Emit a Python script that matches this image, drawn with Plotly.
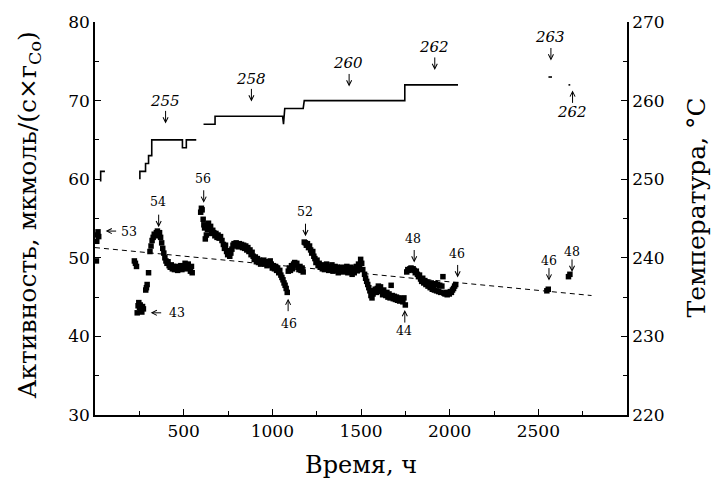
import plotly.graph_objects as go

# Catalyst activity, µmol/(s·g_Co), versus time on stream, h
time_h = [
    8, 10, 13, 17, 21,
    222, 228, 234,
    238, 243, 247, 251, 255, 259, 264, 268, 273,
    286, 290, 294, 302,
    310, 316, 322, 328, 334, 340, 346, 352, 358, 364, 370, 376, 382, 388, 394,
    400, 406, 412, 418, 424, 430, 436, 442, 448, 454, 460, 466, 472, 478, 484,
    490, 496, 502, 508, 514, 520, 526, 532, 538, 544, 548,
    596, 600, 604, 610, 614, 618, 622, 628, 634, 640, 646, 652, 658, 664, 670,
    676, 682, 688, 694, 700, 708, 716, 724, 730, 736, 742, 748, 754, 760, 766,
    772, 778, 784, 790, 796, 802, 808, 814, 820, 826, 832, 838, 844, 850, 856,
    862, 868, 874, 880, 886, 892, 898, 904, 910, 916, 922, 928, 934, 940, 946,
    952, 958, 964, 970, 976, 982, 988, 994, 1000, 1006, 1012, 1018, 1024, 1030,
    1036, 1042, 1048, 1054, 1060, 1066, 1072, 1078, 1084,
    1090, 1096, 1102, 1108, 1114, 1120, 1126, 1132, 1138, 1144, 1150, 1156,
    1162, 1168, 1174,
    1180, 1186, 1192, 1198, 1204, 1210, 1216, 1222, 1228, 1234, 1240, 1246,
    1252, 1258, 1264, 1270, 1276, 1282, 1288, 1294, 1300, 1306, 1312, 1318,
    1324, 1330, 1336, 1342, 1348, 1354, 1360, 1366, 1372, 1378, 1384, 1390,
    1396, 1402, 1408, 1414, 1420, 1426, 1432, 1438, 1444, 1450, 1456, 1462,
    1468, 1474, 1480, 1486, 1492, 1498, 1504, 1510,
    1520, 1526, 1532, 1538, 1544, 1550, 1556, 1562, 1568, 1574, 1580, 1586,
    1592, 1598, 1604, 1610, 1616, 1622, 1628, 1634, 1640, 1646, 1652, 1658,
    1664, 1670, 1676, 1682, 1688, 1694, 1700, 1706, 1712, 1718, 1724, 1730,
    1736, 1742, 1750,
    1758, 1764, 1770, 1776, 1782, 1788, 1794, 1800, 1806, 1812, 1818, 1824,
    1830, 1836, 1842, 1848, 1854, 1860, 1866, 1872, 1878, 1884, 1890, 1896,
    1902, 1908, 1914, 1920, 1926, 1932, 1938, 1944, 1950, 1956, 1962, 1968,
    1974, 1980, 1986, 1992, 1998, 2004, 2010, 2016, 2022, 2028, 2034,
    2548, 2556, 2670, 2678,
]
activity = [
    49.6, 52.1, 52.9, 53.3, 52.7,
    49.6, 49.3, 48.9,
    43.0, 43.9, 44.3, 43.7, 44.0, 43.4, 43.1, 43.8, 43.5,
    45.9, 46.2, 46.6, 48.1,
    50.8, 51.5, 52.2, 52.6, 53.0, 52.8, 53.2, 53.4, 53.1, 53.2, 52.6, 51.9, 51.2, 50.6, 50.0,
    49.6, 49.3, 49.5, 49.0, 48.8, 49.1, 48.6, 48.9, 48.5, 48.7, 48.9, 48.4, 48.8, 48.6, 49.0,
    48.5, 48.9, 48.7, 49.3, 48.6, 48.9, 49.2, 48.7, 48.3, 48.9, 48.1,
    55.8, 56.3, 56.1, 54.9, 54.2, 53.8, 52.4, 52.9, 53.6, 54.4, 53.9, 54.0, 53.1, 53.5, 53.2,
    52.8, 53.1, 52.6, 52.9, 52.5, 52.7, 52.2, 51.7, 51.2, 51.6, 50.8, 50.4, 50.9, 50.2, 50.6,
    51.1, 51.6, 51.8, 51.5, 51.9, 51.7, 51.4, 51.8, 51.6, 51.7, 51.3, 51.6, 51.2, 51.5, 51.0,
    51.3, 50.8, 51.0, 50.4, 50.7, 50.2, 49.8, 50.1, 49.5, 49.9, 49.4, 49.7, 49.2, 49.6, 49.3,
    49.7, 49.2, 49.5, 49.0, 49.4, 49.1, 49.6, 49.2, 48.7, 49.0, 48.6, 48.9, 48.4, 48.7,
    48.1, 48.4, 47.8, 47.5, 47.2, 46.8, 46.5, 46.1, 45.6,
    48.3, 48.7, 48.4, 49.0, 48.6, 49.2, 49.4, 49.1, 49.3, 48.8, 48.5, 48.9,
    48.4, 48.7, 48.2,
    52.0, 51.9, 51.6, 51.8, 51.3, 51.5, 51.0, 50.6, 50.8, 50.2, 49.9, 49.4,
    49.7, 49.0, 49.3, 48.8, 49.1, 48.6, 49.0, 48.5, 48.9, 49.2, 48.7, 48.4,
    48.9, 48.6, 49.1, 48.3, 48.7, 48.9, 48.4, 48.8, 48.1, 48.6, 48.3, 48.8,
    48.5, 48.2, 48.7, 48.4, 48.9, 48.1, 48.6, 48.3, 48.8, 47.9, 48.4, 48.1,
    48.6, 48.9, 48.4, 49.2, 48.7, 49.8, 49.3, 48.5,
    47.9, 47.4, 47.0, 46.6, 46.2, 45.8, 45.2, 44.9, 45.4, 45.8, 46.0, 45.6,
    46.1, 46.4, 45.9, 46.3, 45.7, 45.3, 45.9, 45.5, 45.2, 45.6, 45.0, 45.4,
    44.9, 46.5, 45.2, 44.8, 45.1, 44.7, 45.0, 44.6, 44.9, 44.5, 44.8, 44.6,
    44.4, 44.9, 44.0,
    48.2, 48.5, 48.4, 48.6, 48.7, 48.5, 48.6, 48.4, 48.1, 48.3, 47.9, 47.6,
    47.8, 47.3, 47.0, 47.4, 46.8, 47.1, 46.6, 46.9, 46.4, 46.7, 46.2, 46.8,
    46.0, 46.4, 45.9, 46.7, 45.8, 46.6, 45.7, 46.5, 45.6, 46.4, 47.6, 45.5,
    45.4, 45.6, 45.3, 45.5, 45.4, 45.7, 45.6, 45.9, 46.1, 46.4, 46.6,
    45.8, 46.0, 47.6, 47.9,
]

# Linear trend of the activity
trend_time = [0, 2800]
trend_activity = [51.3, 45.2]

# Reactor temperature programme, °C (None separates the recorded intervals)
temp_time = [
    32, 32, 56, None,
    253, 253, 285, 285, 302, 302, 320, 320, 493, 493, 515, 515, 571, None,
    612, 677, 677, 1058, 1063, 1070, 1174, 1180, 1747, 1747, 2047, None,
    2557, 2577, None,
    2670, 2680,
]
temperature = [
    249.7, 251, 251, None,
    250, 251, 251, 252, 252, 253, 253, 255, 255, 254, 254, 255, 255, None,
    257, 257, 258, 258, 257, 259, 259, 260, 260, 262, 262, None,
    263, 263, None,
    262, 262,
]

# Temperature labels: (text, time, activity-axis height)
temp_labels = [
    ("255", 393, 70.0),
    ("258", 878, 72.7),
    ("260", 1425, 74.8),
    ("262", 1911, 76.8),
    ("263", 2565, 78.1),
    ("262", 2688, 68.6),
]
# Pointer arrows next to the temperature labels: (tip time, tip height, direction)
temp_arrows = [
    (398, 67.1, "down"),
    (882, 69.9, "down"),
    (1433, 71.8, "down"),
    (1916, 73.9, "down"),
    (2571, 75.1, "down"),
    (2693, 71.3, "up"),
]

# Activity value labels: (text, time, height)
activity_labels = [
    ("53", 192, 53.4),
    ("54", 356, 57.1),
    ("43", 463, 43.0),
    ("56", 609, 60.1),
    ("46", 1093, 41.7),
    ("52", 1186, 55.9),
    ("44", 1745, 40.7),
    ("48", 1794, 52.5),
    ("46", 2039, 50.6),
    ("46", 2560, 49.6),
    ("48", 2690, 50.8),
]
activity_arrows = [
    (60, 53.4, "left"),
    (359, 53.9, "down"),
    (314, 43.0, "left"),
    (613, 57.0, "down"),
    (1089, 44.8, "up"),
    (1187, 52.75, "down"),
    (1747, 43.35, "up"),
    (1800, 49.4, "down"),
    (2045, 47.5, "down"),
    (2560, 47.1, "down"),
    (2690, 48.2, "down"),
]

FONT = "DejaVu Serif, serif"
TAIL = {"down": (0, -14), "up": (0, 14), "left": (12, 0)}

fig = go.Figure()
fig.add_trace(go.Scatter(
    x=time_h, y=activity, mode="markers",
    marker=dict(symbol="square", size=5.5, color="black"),
    showlegend=False,
))
fig.add_trace(go.Scatter(
    x=trend_time, y=trend_activity, mode="lines",
    line=dict(color="black", width=1, dash="5px,4px"),
    showlegend=False,
))
fig.add_trace(go.Scatter(
    x=temp_time, y=temperature, mode="lines", yaxis="y2",
    line=dict(color="black", width=1.6), connectgaps=False,
    showlegend=False,
))

ann = []
for text, x, y in temp_labels:
    ann.append(dict(x=x, y=y, text=f"<i>{text}</i>", showarrow=False,
                    font=dict(family=FONT, size=15, color="black")))
for text, x, y in activity_labels:
    ann.append(dict(x=x, y=y, text=text, showarrow=False,
                    font=dict(family=FONT, size=12.5, color="black")))
for x, y, d in temp_arrows + activity_arrows:
    dx, dy = TAIL[d]
    ann.append(dict(x=x, y=y, text="", showarrow=True, ax=dx, ay=dy,
                    arrowhead=5, arrowsize=1, arrowwidth=1, arrowcolor="black",
                    standoff=0, startstandoff=0))

# Axis titles
ann.append(dict(xref="paper", yref="paper", x=0.5, y=-0.167, text="Время, ч",
                showarrow=False, xanchor="center", yanchor="bottom",
                font=dict(family=FONT, size=24, color="black")))
ann.append(dict(xref="paper", yref="paper", x=-0.125, y=0.509,
                text="Активность, мкмоль/(с×г<sub>Co</sub>)", textangle=-90,
                showarrow=False, xanchor="center", yanchor="middle",
                font=dict(family=FONT, size=25, color="black")))
ann.append(dict(xref="paper", yref="paper", x=1.1615, y=0.529,
                text="Температура, °C", textangle=-90,
                showarrow=False, xanchor="right", yanchor="middle",
                font=dict(family=FONT, size=25, color="black")))

tick_font = dict(family=FONT, size=17, color="black")
fig.update_layout(
    width=713, height=481,
    margin=dict(l=95, r=86, t=20, b=66),
    paper_bgcolor="white", plot_bgcolor="white",
    font=dict(family=FONT, color="black"),
    showlegend=False,
    annotations=ann,
    xaxis=dict(
        range=[0, 3000], showgrid=False, zeroline=False,
        showline=True, linecolor="black", linewidth=1.5,
        tickmode="array", tickvals=[500, 1000, 1500, 2000, 2500],
        ticks="inside", ticklen=6, tickwidth=1, tickcolor="black",
        tickfont=tick_font,
        minor=dict(tickmode="array", tickvals=[250, 750, 1250, 1750, 2250, 2750],
                   ticks="inside", ticklen=4, tickwidth=1, tickcolor="black"),
    ),
    yaxis=dict(
        range=[30, 80], showgrid=False, zeroline=False,
        showline=True, linecolor="black", linewidth=1.5,
        tickmode="array", tickvals=[30, 40, 50, 60, 70, 80],
        ticks="inside", ticklen=6, tickwidth=1, tickcolor="black",
        tickfont=tick_font,
        minor=dict(tickmode="array", tickvals=[35, 45, 55, 65, 75],
                   ticks="inside", ticklen=4, tickwidth=1, tickcolor="black"),
    ),
    yaxis2=dict(
        range=[220, 270], overlaying="y", side="right",
        showgrid=False, zeroline=False,
        showline=True, linecolor="black", linewidth=1.5,
        tickmode="array", tickvals=[220, 230, 240, 250, 260, 270],
        ticks="inside", ticklen=6, tickwidth=1, tickcolor="black",
        tickfont=tick_font,
        minor=dict(tickmode="array", tickvals=[225, 235, 245, 255, 265],
                   ticks="inside", ticklen=4, tickwidth=1, tickcolor="black"),
    ),
)

fig.write_html("out.html")
